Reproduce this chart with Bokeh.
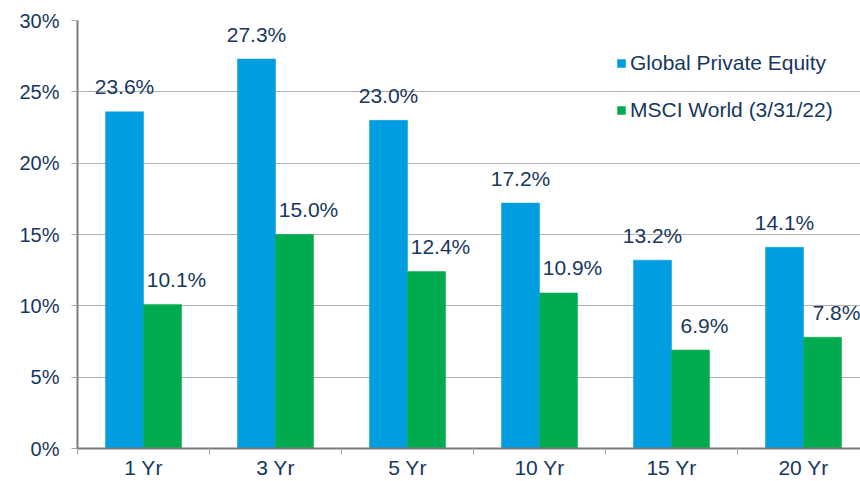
import numpy as np
from bokeh.plotting import figure
from bokeh.models import (Range1d, FixedTicker, ColumnDataSource, Legend, LegendItem,
                          NumeralTickFormatter)
from bokeh.core.properties import value
from bokeh.embed import file_html
from bokeh.resources import INLINE

categories = ["1 Yr", "3 Yr", "5 Yr", "10 Yr", "15 Yr", "20 Yr"]
private_equity = [23.6, 27.3, 23.0, 17.2, 13.2, 14.1]
msci_world = [10.1, 15.0, 12.4, 10.9, 6.9, 7.8]
y_ticks = [0, 5, 10, 15, 20, 25, 30]
series_names = ["Global Private Equity", "MSCI World (3/31/22)"]

BLUE = "#009ee0"
GREEN = "#00aa4f"
TEXT = "#17375e"
FONT = "Liberation Sans"

idx = np.arange(len(categories))
centers = idx + 0.5
bw = 0.288

src_pe = ColumnDataSource(dict(x=centers - bw / 2, top=private_equity,
                               label=[f"{v:.1f}%" for v in private_equity]))
src_ms = ColumnDataSource(dict(x=centers + bw / 2, lx=centers + bw / 2 + 0.106, top=msci_world,
                               label=[f"{v:.1f}%" for v in msci_world]))

p = figure(width=860, height=481, output_backend="svg", toolbar_location=None,
           x_range=Range1d(0, 783 / 132), y_range=Range1d(0, 30),
           min_border_left=77, min_border_right=0, min_border_top=20, min_border_bottom=10)
p.outline_line_color = None
p.background_fill_color = "white"

r1 = p.vbar(x="x", top="top", width=bw, source=src_pe, fill_color=BLUE, line_color=BLUE, line_width=0.5)
r2 = p.vbar(x="x", top="top", width=bw, source=src_ms, fill_color=GREEN, line_color=GREEN, line_width=0.5)

p.text(x="x", y="top", text="label", source=src_pe, text_align="center", text_baseline="alphabetic",
       y_offset=-25, text_font=value(FONT), text_font_size="21px", text_color=TEXT)
p.text(x="lx", y="top", text="label", source=src_ms, text_align="center", text_baseline="alphabetic",
       y_offset=-25, text_font=value(FONT), text_font_size="21px", text_color=TEXT)

# y axis
p.yaxis.ticker = FixedTicker(ticks=y_ticks)
p.yaxis.formatter = NumeralTickFormatter(format="0")
p.yaxis.major_label_overrides = {t: f"{t}%" for t in y_ticks}
p.yaxis.major_label_text_font = FONT
p.yaxis.major_label_text_font_size = "20px"
p.yaxis.major_label_text_color = TEXT
p.yaxis.major_tick_out = 6
p.yaxis.major_tick_in = 0
p.yaxis.minor_tick_line_color = None
p.yaxis.major_tick_line_color = "#a6a6a6"
p.yaxis.axis_line_color = "#7a7a7a"
p.yaxis.axis_line_width = 2
p.yaxis.major_label_standoff = 12

# x axis
p.xaxis.ticker = FixedTicker(ticks=list(centers), minor_ticks=list(range(len(categories) + 1)))
p.xaxis.major_label_overrides = {float(c): n for c, n in zip(centers, categories)}
p.xaxis.major_label_text_font = FONT
p.xaxis.major_label_text_font_size = "21px"
p.xaxis.major_label_text_color = TEXT
p.xaxis.major_tick_line_color = None
p.xaxis.major_tick_out = 0
p.xaxis.major_tick_in = 0
p.xaxis.minor_tick_out = 6
p.xaxis.minor_tick_in = 0
p.xaxis.minor_tick_line_color = "#a6a6a6"
p.xaxis.axis_line_color = "#7a7a7a"
p.xaxis.axis_line_width = 2
p.xaxis.major_label_standoff = 1

p.xgrid.grid_line_color = None
p.ygrid.grid_line_color = "#b0b0b0"
p.ygrid.grid_line_width = 1

legend = Legend(items=[LegendItem(label=series_names[0], renderers=[r1]),
                       LegendItem(label=series_names[1], renderers=[r2])],
                location=(539, 326), orientation="vertical")
legend.background_fill_alpha = 0
legend.border_line_alpha = 0
legend.glyph_width = 10
legend.glyph_height = 10
legend.label_standoff = 4
legend.spacing = 23
legend.padding = 0
legend.margin = 0
legend.label_text_font = FONT
legend.label_text_font_size = "21px"
legend.label_text_color = TEXT
p.add_layout(legend)

open("out.html", "w").write(file_html(p, INLINE))
